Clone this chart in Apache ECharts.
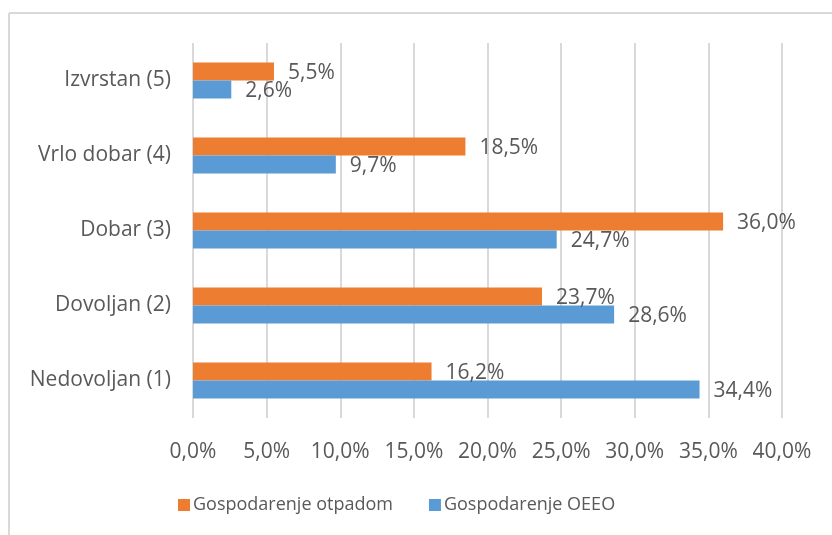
<!DOCTYPE html>
<html>
<head>
<meta charset="utf-8">
<script src="https://cdn.jsdelivr.net/npm/echarts@6/dist/echarts.min.js"></script>
<style>
  html, body { margin: 0; padding: 0; background: #fff; }
  #chart { width: 832px; height: 535px; }
</style>
</head>
<body>
<div id="chart"></div>
<script>
// Rating categories, listed bottom to top
const categories = ['Nedovoljan (1)', 'Dovoljan (2)', 'Dobar (3)', 'Vrlo dobar (4)', 'Izvrstan (5)'];
// Share of responses (%) per rating
const otpadom = [16.2, 23.7, 36.0, 18.5, 5.5];
const oeeo = [34.4, 28.6, 24.7, 9.7, 2.6];
const seriesNames = ['Gospodarenje otpadom', 'Gospodarenje OEEO'];

const FONT = '"Open Sans", sans-serif';
const TEXT = '#595959';
const GRID = '#D9D9D9';

const pct = v => v.toFixed(1).replace('.', ',') + '%';

const chart = echarts.init(document.getElementById('chart'));

const barLabel = {
  show: true,
  position: 'right',
  distance: 14,
  offset: [0, 2],
  color: TEXT,
  fontFamily: FONT,
  fontSize: 21,
  formatter: p => pct(p.value)
};

chart.setOption({
  animation: false,
  backgroundColor: '#fff',
  textStyle: { fontFamily: FONT },
  grid: { left: 193, right: 50, top: 43, bottom: 117, containLabel: false },
  xAxis: {
    type: 'value',
    min: 0,
    max: 40,
    interval: 5,
    axisLine: { show: false },
    axisTick: { show: false },
    splitLine: { show: true, lineStyle: { color: GRID, width: 2 } },
    axisLabel: {
      color: TEXT, fontFamily: FONT, fontSize: 21, margin: 24,
      formatter: v => pct(v)
    }
  },
  yAxis: {
    type: 'category',
    data: categories,
    axisLine: { show: false },
    axisTick: { show: false },
    axisLabel: { color: TEXT, fontFamily: FONT, fontSize: 21, margin: 22 }
  },
  legend: {
    data: seriesNames,
    left: 173,
    top: 491,
    icon: 'rect',
    itemWidth: 12,
    itemHeight: 12,
    itemGap: 36,
    textStyle: { color: TEXT, fontFamily: FONT, fontSize: 18, padding: [0, 0, 0, -2] }
  },
  series: [
    {
      name: seriesNames[0],
      type: 'bar',
      data: otpadom,
      barWidth: 18,
      barGap: '0%',
      itemStyle: { color: '#ED7D31' },
      label: barLabel
    },
    {
      name: seriesNames[1],
      type: 'bar',
      data: oeeo,
      barWidth: 18,
      barGap: '0%',
      itemStyle: { color: '#5B9BD5' },
      label: barLabel
    }
  ],
  graphic: [
    { type: 'line', shape: { x1: 9, y1: 13, x2: 832, y2: 13 }, style: { stroke: GRID, lineWidth: 2 } },
    { type: 'line', shape: { x1: 9, y1: 13, x2: 9, y2: 535 }, style: { stroke: GRID, lineWidth: 2 } }
  ]
});
</script>
</body>
</html>
